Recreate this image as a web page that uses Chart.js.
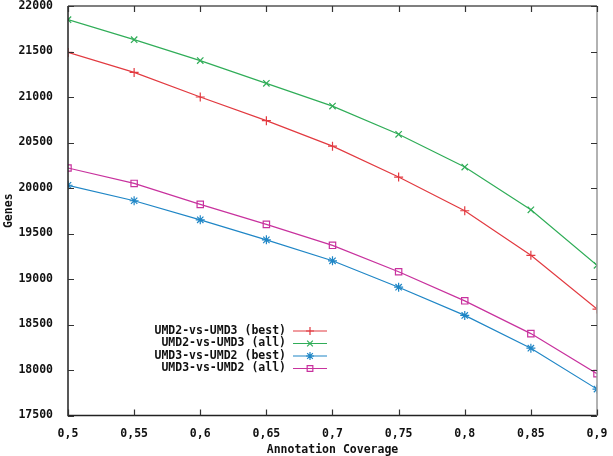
<!DOCTYPE html>
<html lang="en">
<head>
    <meta charset="UTF-8">
    <style>
        body { margin: 0; background: #ffffff; }
        #wrap { width: 613px; height: 456px; position: relative; }
    </style>
    <script src="https://cdn.jsdelivr.net/npm/chart.js"></script>
    <title>Genes vs Annotation Coverage</title>
</head>
<body>
    <div id="wrap"><canvas id="grafico"></canvas></div>
    <script>
        // data
        const coverage = [0.5, 0.55, 0.6, 0.65, 0.7, 0.75, 0.8, 0.85, 0.9];
        const umd2vs3Best = [21490, 21270, 21000, 20740, 20460, 20120, 19750, 19260, 18670];
        const umd2vs3All = [21850, 21630, 21400, 21150, 20900, 20590, 20230, 19760, 19150];
        const umd3vs2Best = [20030, 19860, 19650, 19430, 19200, 18910, 18600, 18240, 17790];
        const umd3vs2All = [20220, 20050, 19820, 19600, 19370, 19080, 18760, 18400, 17960];
        const xTicks = ["0,5", "0,55", "0,6", "0,65", "0,7", "0,75", "0,8", "0,85", "0,9"];
        const seriesNames = ["UMD2-vs-UMD3 (best)", "UMD2-vs-UMD3 (all)", "UMD3-vs-UMD2 (best)", "UMD3-vs-UMD2 (all)"];

        const FONT = "bold 11.5px 'DejaVu Sans Mono', monospace";
        const tickFont = { family: "'DejaVu Sans Mono', monospace", size: 11.5, weight: "bold", lineHeight: 1 };

        function pts(vals) {
            return vals.map((v, i) => ({ x: coverage[i], y: v }));
        }

        const series = [
            { label: seriesNames[0], data: pts(umd2vs3Best), color: "#e23a40", style: "cross" },
            { label: seriesNames[1], data: pts(umd2vs3All), color: "#30ad58", style: "crossRot" },
            { label: seriesNames[2], data: pts(umd3vs2Best), color: "#1f86c6", style: "star" },
            { label: seriesNames[3], data: pts(umd3vs2All), color: "#c8329e", style: "rect" }
        ];

        // gnuplot style frame, inward ticks and key
        const gnuplotFrame = {
            id: "gnuplotFrame",
            afterDatasetsDraw(chart) {
                const ctx = chart.ctx;
                const a = chart.chartArea;
                const xs = chart.scales.x, ys = chart.scales.y;
                ctx.save();
                ctx.strokeStyle = "#222";
                ctx.lineWidth = 1.5;
                ctx.beginPath();
                ctx.moveTo(a.left, a.top);
                ctx.lineTo(a.left, a.bottom);
                ctx.lineTo(a.right, a.bottom);
                ctx.stroke();
                ctx.strokeStyle = "#555";
                ctx.beginPath();
                ctx.moveTo(a.left, a.top);
                ctx.lineTo(a.right, a.top);
                ctx.stroke();
                ctx.strokeStyle = "#999";
                ctx.beginPath();
                ctx.moveTo(a.right, a.top);
                ctx.lineTo(a.right, a.bottom);
                ctx.stroke();

                ctx.strokeStyle = "#333";
                ctx.lineWidth = 1.2;
                for (const c of coverage) {
                    const px = Math.round(xs.getPixelForValue(c)) + 0.5;
                    ctx.beginPath();
                    ctx.moveTo(px, a.bottom); ctx.lineTo(px, a.bottom - 6);
                    ctx.moveTo(px, a.top); ctx.lineTo(px, a.top + 6);
                    ctx.stroke();
                }
                for (let v = 17500; v <= 22000; v += 500) {
                    const py = Math.round(ys.getPixelForValue(v)) + 0.5;
                    ctx.beginPath();
                    ctx.moveTo(a.left, py); ctx.lineTo(a.left + 6, py);
                    ctx.moveTo(a.right, py); ctx.lineTo(a.right - 6, py);
                    ctx.stroke();
                }

                // key
                ctx.font = FONT;
                ctx.textAlign = "right";
                ctx.textBaseline = "middle";
                const rows = [331, 343.5, 356, 368.5];
                series.forEach((s, i) => {
                    const y = rows[i];
                    ctx.fillStyle = "#111";
                    ctx.fillText(s.label, 286, y);
                    ctx.strokeStyle = s.color;
                    ctx.fillStyle = "rgba(0,0,0,0)";
                    ctx.lineWidth = 1.2;
                    ctx.beginPath();
                    ctx.moveTo(293, y); ctx.lineTo(327, y);
                    ctx.stroke();
                    Chart.helpers.drawPoint(ctx, {
                        pointStyle: s.style, radius: 4, borderWidth: 1.2
                    }, 310, y);
                });
                ctx.restore();
            }
        };

        const ctx = document.getElementById("grafico").getContext("2d");
        new Chart(ctx, {
            type: "line",
            data: {
                datasets: series.map(s => ({
                    label: s.label,
                    data: s.data,
                    borderColor: s.color,
                    backgroundColor: "rgba(0,0,0,0)",
                    borderWidth: 1.2,
                    pointStyle: s.style,
                    pointRadius: 4.5,
                    pointBorderWidth: 1.2,
                    pointBorderColor: s.color,
                    tension: 0,
                    fill: false
                }))
            },
            options: {
                responsive: true,
                maintainAspectRatio: false,
                animation: false,
                layout: { padding: { top: 6, right: 16, left: 0, bottom: 0 } },
                plugins: {
                    legend: { display: false },
                    tooltip: { enabled: false }
                },
                scales: {
                    x: {
                        type: "linear",
                        min: 0.5,
                        max: 0.9,
                        afterBuildTicks(scale) {
                            scale.ticks = coverage.map(v => ({ value: v }));
                        },
                        afterFit(scale) {
                            scale.height = 40.5;
                            scale.paddingLeft = 0;
                            scale.paddingRight = 0;
                        },
                        grid: { display: false },
                        border: { display: false },
                        ticks: {
                            autoSkip: false,
                            maxRotation: 0,
                            padding: 5,
                            color: "#111",
                            font: tickFont,
                            callback: (v, i) => xTicks[i]
                        },
                        title: {
                            display: true,
                            text: "Annotation Coverage",
                            color: "#111",
                            padding: { top: 2, bottom: 0 },
                            font: tickFont
                        }
                    },
                    y: {
                        min: 17500,
                        max: 22000,
                        afterFit(scale) {
                            scale.width = 68;
                            scale.paddingTop = 0;
                            scale.paddingBottom = 0;
                        },
                        grid: { display: false },
                        border: { display: false },
                        ticks: {
                            stepSize: 500,
                            padding: 7,
                            color: "#111",
                            font: tickFont,
                            callback: v => String(v)
                        },
                        title: {
                            display: true,
                            text: "Genes",
                            color: "#111",
                            padding: { top: 3, bottom: 0 },
                            font: tickFont
                        }
                    }
                }
            },
            plugins: [gnuplotFrame]
        });
    </script>
</body>
</html>
